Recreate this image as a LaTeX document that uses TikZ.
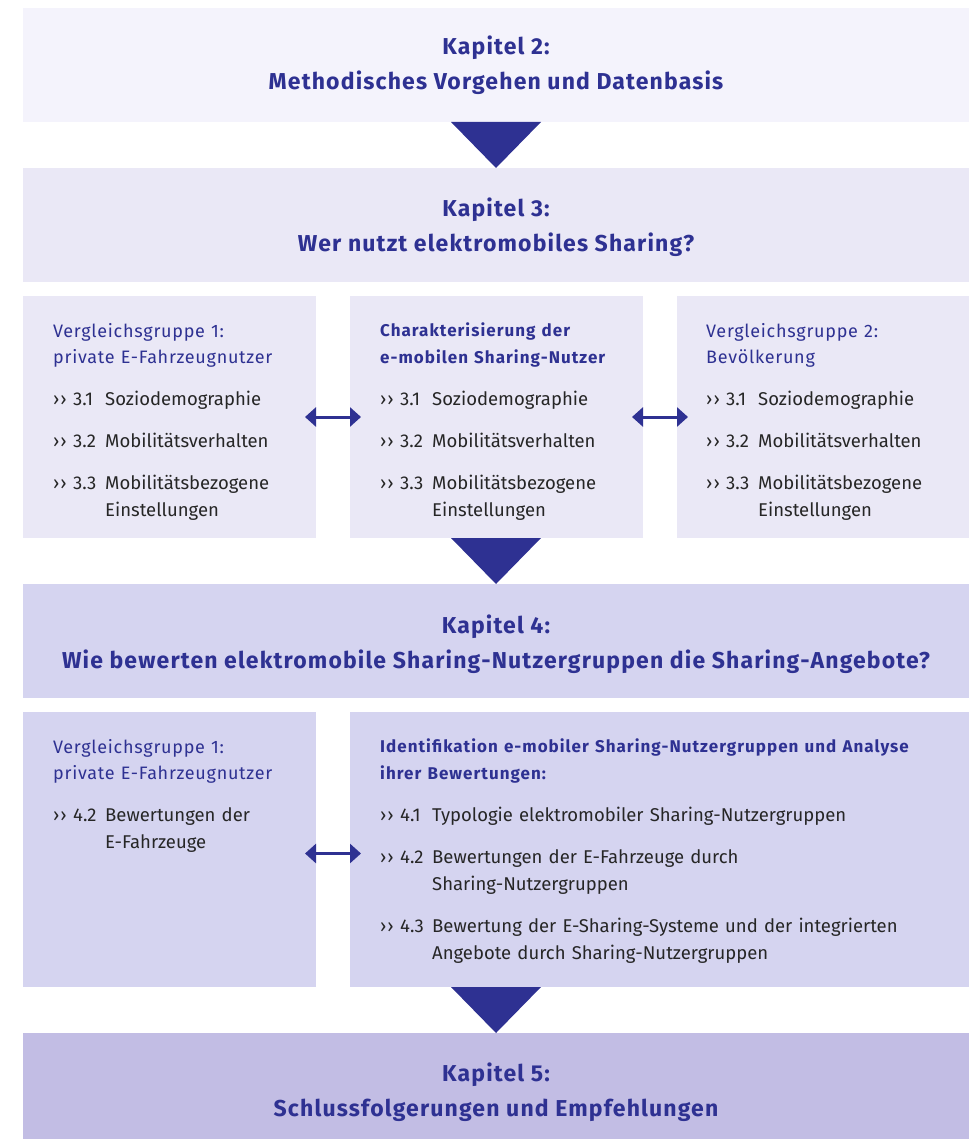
\documentclass[tikz,border=0pt]{standalone}
\usepackage{fontspec}
\setmainfont{Fira Sans}
\usetikzlibrary{positioning,arrows.meta}
\setlength\parindent{0pt}
\definecolor{myblue}{HTML}{2E3192}
\definecolor{boxA}{HTML}{F4F3FC}
\definecolor{boxB}{HTML}{EAE8F6}
\definecolor{boxC}{HTML}{D5D4F0}
\definecolor{boxD}{HTML}{C2BDE4}
\colorlet{txtcol}{black!85}
\tikzstyle{chbox}=[inner sep=0,outer sep=0,minimum width=946,minimum height=114]
\tikzstyle{subbox}=[inner sep=0,outer sep=0,minimum width=293]
\tikzstyle{title}=[myblue,align=center,font=\fontsize{23}{35}\selectfont\bfseries\addfontfeature{LetterSpace=5}]
\tikzstyle{body}=[inner sep=0,align=left,text=txtcol,font=\fontsize{18.5}{27}\selectfont]
\tikzstyle{down}=[myblue]
\tikzstyle{both}=[myblue,line width=3,{Triangle[length=11pt,width=19pt]}-{Triangle[length=11pt,width=19pt]},
  shorten <=-11pt,shorten >=-11pt]
% group headings and numbered points
\newcommand\grp[1]{{\color{myblue}\fontsize{18}{26}\selectfont\addfontfeature{LetterSpace=4}#1\par}}
\newcommand\grpb[1]{{\color{myblue}\fontsize{17}{27}\selectfont\bfseries\addfontfeature{LetterSpace=6}#1\par}}
\newcommand\secitem[2]{\par\vspace{15pt}\hangindent=52pt\hangafter=1\noindent
  \makebox[20pt][l]{›\kern1pt›}\makebox[32pt][l]{#1}\begingroup\let\\\newline#2\par\endgroup}

\begin{document}
\begin{tikzpicture}[x=1pt,y=-1pt]
  \useasboundingbox (0,0) rectangle (975,1139);

  % chapter boxes and the boxes of each chapter
  \node[chbox,fill=boxA] (k2) at (496,65) {};
  \node[chbox,fill=boxB,below=46pt of k2] (k3) {};
  \node[subbox,fill=boxB,minimum height=242,below right=14pt and 0pt of k3.south west] (g1) {};
  \node[subbox,fill=boxB,minimum height=242,right=34pt of g1] (sn) {};
  \node[subbox,fill=boxB,minimum height=242,minimum width=292,right=34pt of sn] (g2) {};
  \node[chbox,fill=boxC,below right=46pt and 0pt of g1.south west] (k4) {};
  \node[subbox,fill=boxC,minimum height=275,below right=14pt and 0pt of k4.south west] (v1) {};
  \node[subbox,fill=boxC,minimum height=275,minimum width=619,right=34pt of v1] (id) {};
  \node[chbox,fill=boxD,minimum height=106,below right=46pt and 0pt of v1.south west] (k5) {};

  \node[title] (k2t) at (k2) {Kapitel 2:\\Methodisches Vorgehen und Datenbasis};
  \node[title,yshift=-2pt] (k3t) at (k3) {Kapitel 3:\\Wer nutzt elektromobiles Sharing?};
  \node[title,yshift=-3pt] (k4t) at (k4) {Kapitel 4:\\Wie bewerten elektromobile Sharing-Nutzergruppen die Sharing-Angebote?};
  \node[title,yshift=-6pt] (k5t) at (k5) {Kapitel 5:\\Schlussfolgerungen und Empfehlungen};

  \node[body,text width=262,below right=27pt and 30pt of g1.north west] (g1t) {%
    \grp{Vergleichsgruppe 1:\\private E-Fahrzeugnutzer}
    \secitem{3.1}{Soziodemographie}
    \secitem{3.2}{Mobilitätsverhalten}
    \secitem{3.3}{Mobilitätsbezogene\\Einstellungen}};
  \node[body,text width=262,below right=27pt and 30pt of sn.north west] (snt) {%
    \grpb{Charakterisierung der\\e-mobilen Sharing-Nutzer}
    \secitem{3.1}{Soziodemographie}
    \secitem{3.2}{Mobilitätsverhalten}
    \secitem{3.3}{Mobilitätsbezogene\\Einstellungen}};
  \node[body,text width=262,below right=27pt and 29pt of g2.north west] (g2t) {%
    \grp{Vergleichsgruppe 2:\\Bevölkerung}
    \secitem{3.1}{Soziodemographie}
    \secitem{3.2}{Mobilitätsverhalten}
    \secitem{3.3}{Mobilitätsbezogene\\Einstellungen}};
  \node[body,text width=262,below right=27pt and 30pt of v1.north west] (v1t) {%
    \grp{Vergleichsgruppe 1:\\private E-Fahrzeugnutzer}
    \secitem{4.2}{Bewertungen der\\E-Fahrzeuge}};
  \node[body,text width=580,below right=27pt and 30pt of id.north west] (idt) {%
    \grpb{Identifikation e-mobiler Sharing-Nutzergruppen und Analyse\\ihrer Bewertungen:}
    \secitem{4.1}{Typologie elektromobiler Sharing-Nutzergruppen}
    \secitem{4.2}{Bewertungen der E-Fahrzeuge durch\\Sharing-Nutzergruppen}
    \secitem{4.3}{Bewertung der E-Sharing-Systeme und der integrierten\\Angebote durch Sharing-Nutzergruppen}};

  % flow between chapters
  \fill[down] (k2.south) ++(-45,0) -- ++(90,0) -- (k3.north) -- cycle;
  \fill[down] (k4.north |- sn.south) ++(-45,0) -- ++(90,0) -- (k4.north) -- cycle;
  \fill[down] (k5.north |- id.south) ++(-45,0) -- ++(90,0) -- (k5.north) -- cycle;

  % comparisons
  \draw[both] (g1.east) -- (sn.west);
  \draw[both] (sn.east) -- (g2.west);
  \draw[both] ([yshift=-4pt]v1.east) -- ([yshift=-4pt]id.west);
\end{tikzpicture}
\end{document}
